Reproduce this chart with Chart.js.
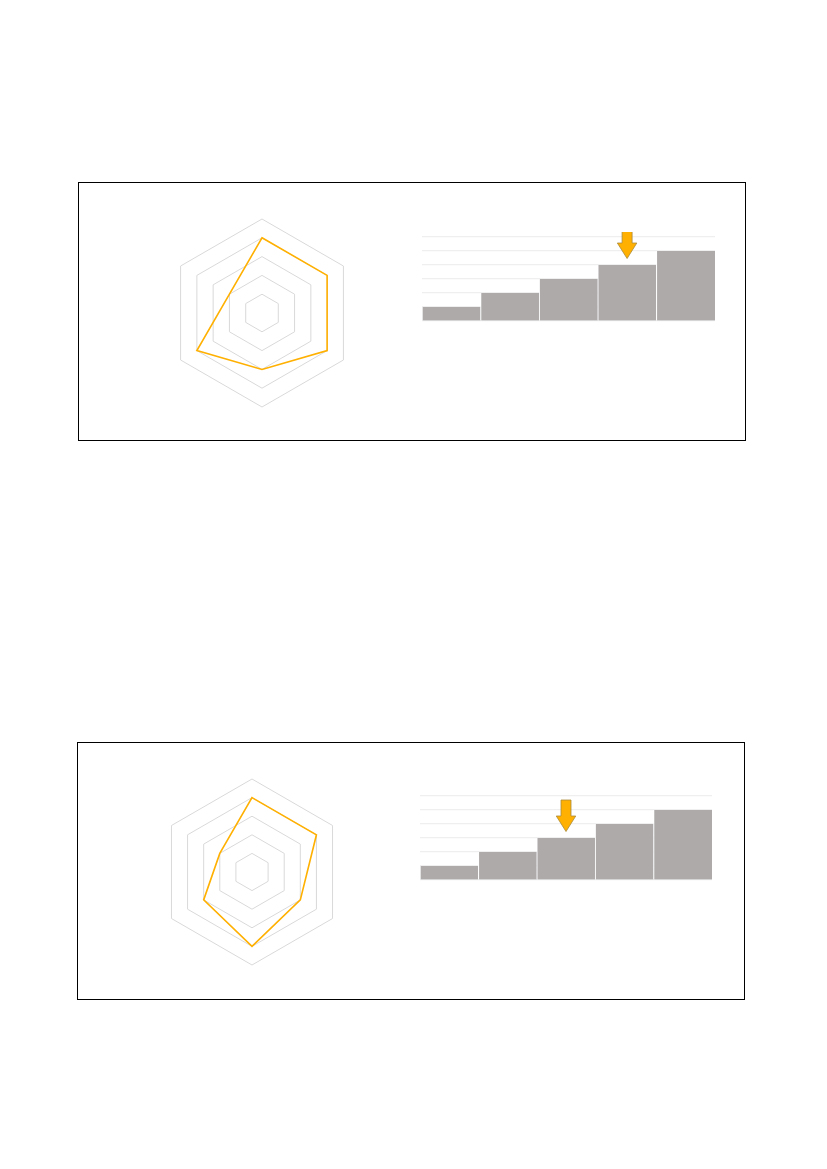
<!DOCTYPE html>
<html>
<head>
<meta charset="utf-8">
<script src="https://cdn.jsdelivr.net/npm/chart.js@4/dist/chart.umd.min.js"></script>
<style>
  html, body { margin: 0; padding: 0; background: #ffffff; }
  body { width: 827px; height: 1169px; position: relative; overflow: hidden; font-family: "Liberation Sans", sans-serif; }
  .box { position: absolute; border: 1.3px solid #000; box-sizing: border-box; }
  canvas { position: absolute; }
</style>
</head>
<body>
<div class="box" style="left:78px; top:182px; width:668px; height:259px;"></div>
<div class="box" style="left:76.5px; top:742px; width:668px; height:258px;"></div>

<canvas id="radar1" style="left:158px; top:209px;"></canvas>
<canvas id="bar1" style="left:417px; top:232px;"></canvas>
<canvas id="radar2" style="left:149px; top:769px;"></canvas>
<canvas id="bar2" style="left:415px; top:791px;"></canvas>

<script>
// ---- data ----
const radarAxes = ["A", "B", "C", "D", "E", "F"];
const radarValues1 = [4, 4, 4, 3, 4, 2];
const radarValues2 = [4, 4, 3, 4, 3, 2];
const radarMax = 5;

const barCategories = ["1", "2", "3", "4", "5"];
const barValues1 = [1, 2, 3, 4, 5];
const barValues2 = [1, 2, 3, 4, 5];
const barMax = 6;
const highlight1 = [3];   // index of bar marked by the arrow (top chart)
const highlight2 = [2];   // index of bar marked by the arrow (bottom chart)

// ---- colours ----
const ORANGE = "#FFB000";
const BAR_GREY = "#AEAAAA";
const RING_GREY = "#D9D9D9";
const BAR_GRID = "#EFEFEF";

function makeRadar(id, size, values) {
  const c = document.getElementById(id);
  c.width = size; c.height = size;
  c.style.width = size + "px"; c.style.height = size + "px";
  new Chart(c, {
    type: "radar",
    data: {
      labels: radarAxes,
      datasets: [{
        data: values,
        borderColor: ORANGE,
        borderWidth: 1.6,
        fill: false,
        pointRadius: 0,
        tension: 0
      }]
    },
    options: {
      responsive: false,
      animation: false,
      devicePixelRatio: 1,
      layout: { padding: 10 },
      plugins: { legend: { display: false }, tooltip: { enabled: false } },
      scales: {
        r: {
          min: 0, max: radarMax,
          ticks: { display: false, stepSize: 1 },
          pointLabels: { display: false },
          angleLines: { display: false },
          grid: { color: RING_GREY, lineWidth: 1, circular: false }
        }
      }
    }
  });
}

const arrowPlugin = {
  id: "arrowMarker",
  afterDatasetsDraw(chart, args, opts) {
    const ctx = chart.ctx;
    const xs = chart.scales.x, ys = chart.scales.y;
    const vals = chart.data.datasets[0].data;
    (opts.indices || []).forEach(i => {
      const cx = xs.getPixelForValue(i);
      const tip = ys.getPixelForValue(vals[i]) - 6.5;
      const shaftW = 10, headW = 19.5, headH = 15.5, totalH = 31.5;
      const top = tip - totalH, headTop = tip - headH;
      ctx.save();
      ctx.beginPath();
      ctx.moveTo(cx - shaftW / 2, top);
      ctx.lineTo(cx + shaftW / 2, top);
      ctx.lineTo(cx + shaftW / 2, headTop);
      ctx.lineTo(cx + headW / 2, headTop);
      ctx.lineTo(cx, tip);
      ctx.lineTo(cx - headW / 2, headTop);
      ctx.lineTo(cx - shaftW / 2, headTop);
      ctx.closePath();
      ctx.fillStyle = ORANGE;
      ctx.fill();
      ctx.lineWidth = 0.8;
      ctx.strokeStyle = "#A98A3A";
      ctx.stroke();
      ctx.restore();
    });
  }
};

function makeBar(id, w, h, values, hl) {
  const c = document.getElementById(id);
  c.width = w; c.height = h;
  c.style.width = w + "px"; c.style.height = h + "px";
  new Chart(c, {
    type: "bar",
    data: {
      labels: barCategories,
      datasets: [{
        data: values,
        backgroundColor: BAR_GREY,
        borderColor: "#FFFFFF",
        borderWidth: { left: 1, right: 0, top: 0, bottom: 0 },
        borderSkipped: false,
        barPercentage: 1,
        categoryPercentage: 1
      }]
    },
    options: {
      responsive: false,
      animation: false,
      devicePixelRatio: 1,
      layout: { padding: 5 },
      plugins: { legend: { display: false }, tooltip: { enabled: false }, arrowMarker: { indices: hl } },
      scales: {
        x: { display: false },
        y: {
          min: 0, max: barMax,
          ticks: { display: false, stepSize: 1 },
          border: { display: false },
          grid: { color: BAR_GRID, lineWidth: 1.2, drawTicks: false },
          afterFit: s => { s.width = 0; }
        }
      }
    },
    plugins: [arrowPlugin]
  });
}

makeRadar("radar1", 208, radarValues1);
makeRadar("radar2", 206, radarValues2);
makeBar("bar1", 303, 94, barValues1, highlight1);
makeBar("bar2", 302, 94, barValues2, highlight2);
</script>
</body>
</html>
